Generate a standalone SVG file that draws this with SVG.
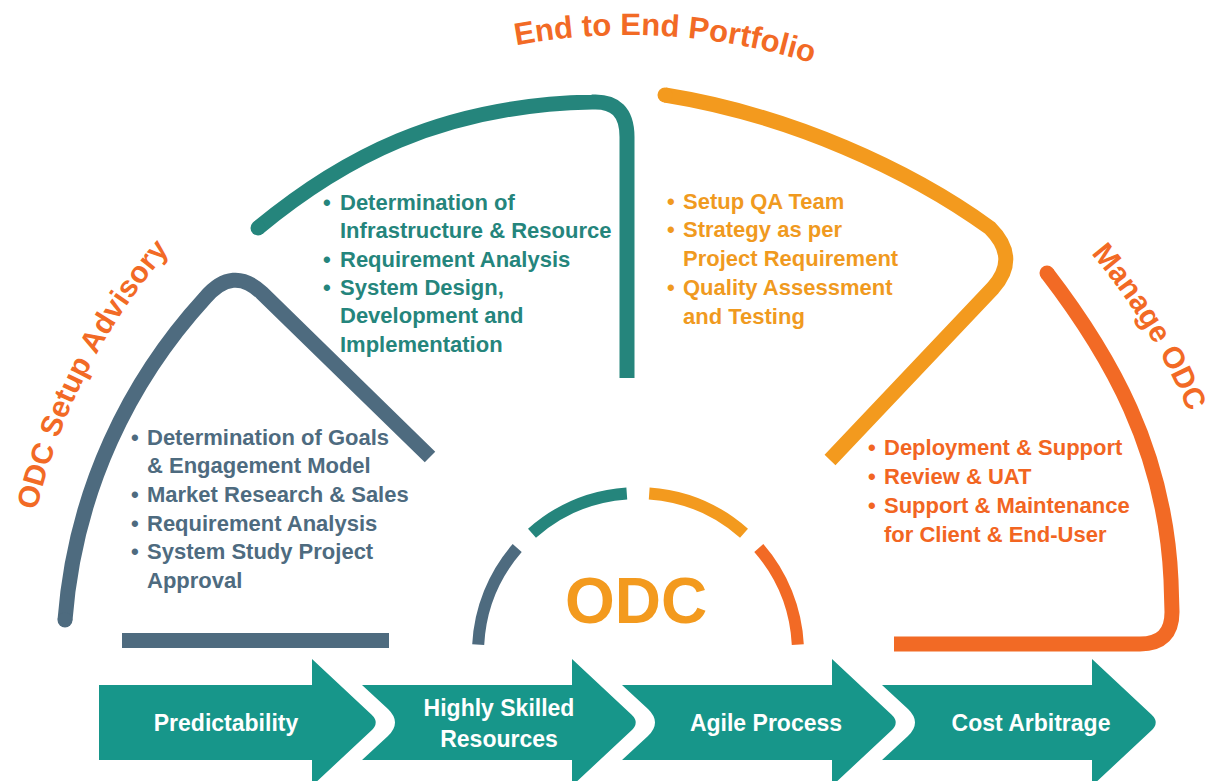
<svg xmlns="http://www.w3.org/2000/svg" width="1212" height="781" viewBox="0 0 1212 781">
  <style>
    .f { font-family: "Liberation Sans", Arial, Helvetica, sans-serif; font-weight: bold; }
    .b { font-size: 22px; }
    .curve { fill: none; stroke-width: 15; stroke-linecap: butt; stroke-linejoin: round; }
    .mini { fill: none; stroke-width: 12; stroke-linecap: butt; }
    .title { font-size: 30px; fill: #F26A25; }
    .arrow { fill: #17968A; }
    .alabel { font-size: 23px; fill: #FFFFFF; text-anchor: middle; }
    .slate { stroke: #4E6B7F; }
    .teal { stroke: #25857C; }
    .yel { stroke: #F39A1E; }
    .org { stroke: #F26A25; }
  </style>
  <defs>
    <path id="arcTop" d="M234.0,178.4 A613,613 0 0 1 1022.0,178.4"/>
    <path id="arcLeft" d="M30.2,753.4 A607,607 0 0 1 324.5,122.3"/>
    <path id="arcRight" d="M932,121.5 A608,608 0 0 1 1226.8,753.6"/>
  </defs>
  <rect width="1212" height="781" fill="#FFFFFF"/>

  <g id="title-top">
    <text class="f title" style="font-size:31px"><textPath href="#arcTop" startOffset="465" text-anchor="middle">End to End Portfolio</textPath></text>
  </g>

  <g id="advisory">
    <path class="curve slate" d="M65,620 C75,490 130,380 205,298 Q233,265 262,293 L430,457"/>
    <circle cx="65" cy="620" r="7.5" fill="#4E6B7F"/>
    <rect x="122" y="633" width="267" height="15" fill="#4E6B7F"/>
    <text class="f title"><textPath href="#arcLeft" startOffset="244.5">ODC</textPath></text>
    <text class="f title"><textPath href="#arcLeft" startOffset="319.5">Setup</textPath></text>
    <text class="f title"><textPath href="#arcLeft" startOffset="411.2">Advisory</textPath></text>
    <g class="f b" fill="#4E6B7F">
      <text x="131" y="445">•</text><text x="147" y="445">Determination of Goals</text>
      <text x="147" y="473">&amp; Engagement Model</text>
      <text x="131" y="502">•</text><text x="147" y="502">Market Research &amp; Sales</text>
      <text x="131" y="531">•</text><text x="147" y="531">Requirement Analysis</text>
      <text x="131" y="559">•</text><text x="147" y="559">System Study Project</text>
      <text x="147" y="588">Approval</text>
    </g>
  </g>

  <g id="development">
    <path class="curve teal" d="M258,228 C340,160 440,105 592,102 Q627,100 627,137 L627,378"/>
    <circle cx="258" cy="228" r="7.5" fill="#25857C"/>
    <g class="f b" fill="#25857C">
      <text x="323" y="210">•</text><text x="340" y="210">Determination of</text>
      <text x="340" y="238">Infrastructure &amp; Resource</text>
      <text x="323" y="267">•</text><text x="340" y="267">Requirement Analysis</text>
      <text x="323" y="295">•</text><text x="340" y="295">System Design,</text>
      <text x="340" y="323">Development and</text>
      <text x="340" y="352">Implementation</text>
    </g>
  </g>

  <g id="qa">
    <path class="curve yel" d="M665,95 C790,115 910,170 990,228 Q1020,258 993,288 L830,460"/>
    <circle cx="665" cy="95" r="7.5" fill="#F39A1E"/>
    <g class="f b" fill="#F09A1F">
      <text x="667" y="209">•</text><text x="683" y="209">Setup QA Team</text>
      <text x="667" y="237">•</text><text x="683" y="237">Strategy as per</text>
      <text x="683" y="266">Project Requirement</text>
      <text x="667" y="295">•</text><text x="683" y="295">Quality Assessment</text>
      <text x="683" y="324">and Testing</text>
    </g>
  </g>

  <g id="manage">
    <path class="curve org" d="M1047,273 C1110,355 1165,450 1171,580 L1172,612 Q1172,644 1140,644 L894,644"/>
    <circle cx="1047" cy="273" r="7.5" fill="#F26A25"/>
    <text class="f title"><textPath href="#arcRight" startOffset="301" text-anchor="middle">Manage ODC</textPath></text>
    <g class="f b" fill="#F26522">
      <text x="868" y="455">•</text><text x="884" y="455">Deployment &amp; Support</text>
      <text x="868" y="484">•</text><text x="884" y="484">Review &amp; UAT</text>
      <text x="868" y="513">•</text><text x="884" y="513">Support &amp; Maintenance</text>
      <text x="884" y="542">for Client &amp; End-User</text>
    </g>
  </g>

  <g id="odc-core">
    <path class="mini slate" d="M478.2,644.6 A160,160 0 0 1 517.2,548.0"/>
    <path class="mini teal" d="M532.0,533.2 A160,160 0 0 1 626.8,493.4"/>
    <path class="mini yel" d="M649.2,493.4 A160,160 0 0 1 744.0,533.2"/>
    <path class="mini org" d="M758.8,548.0 A160,160 0 0 1 797.8,644.6"/>
    <text class="f" x="636" y="623" font-size="64" fill="#F39A1E" text-anchor="middle">ODC</text>
  </g>

  <g id="connectors">
    <g id="arrow-predictability">
      <path class="arrow" d="M99,685 L312,685 L312,659 L371.4,714.5 Q380,722.5 371.4,730.5 L312,786 L312,760 L99,760 Z"/>
      <text class="f alabel" x="226" y="731">Predictability</text>
    </g>
    <g id="arrow-resources">
      <path class="arrow" d="M362,685 L572,685 L572,659 L631.4,714.5 Q640,722.5 631.4,730.5 L572,786 L572,760 L362,760 L388,736 Q402,722.5 388,709 Z"/>
      <text class="f alabel" x="499" y="716">Highly Skilled</text>
      <text class="f alabel" x="499" y="747">Resources</text>
    </g>
    <g id="arrow-agile">
      <path class="arrow" d="M622,685 L832,685 L832,659 L891.4,714.5 Q900,722.5 891.4,730.5 L832,786 L832,760 L622,760 L648,736 Q662,722.5 648,709 Z"/>
      <text class="f alabel" x="766" y="731">Agile Process</text>
    </g>
    <g id="arrow-cost">
      <path class="arrow" d="M882,685 L1092,685 L1092,659 L1151.4,714.5 Q1160,722.5 1151.4,730.5 L1092,786 L1092,760 L882,760 L908,736 Q922,722.5 908,709 Z"/>
      <text class="f alabel" x="1031" y="731">Cost Arbitrage</text>
    </g>
  </g>
</svg>
